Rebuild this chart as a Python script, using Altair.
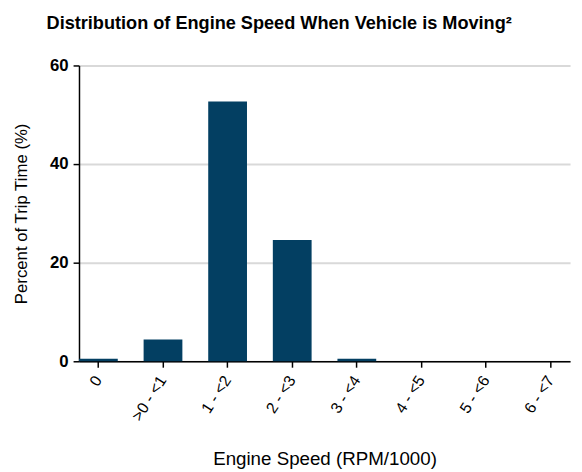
import altair as alt
import pandas as pd

categories = ["0", ">0 - <1", "1 - <2", "2 - <3", "3 - <4", "4 - <5", "5 - <6", "6 - <7"]
percent = [0.5, 4.4, 52.7, 24.6, 0.5, 0.0, 0.0, 0.0]

df = pd.DataFrame({"speed": categories, "pct": percent})

chart = alt.Chart(df).mark_bar(color="#033f62").encode(
    x=alt.X("speed:N", sort=categories,
            scale=alt.Scale(paddingInner=0.4, paddingOuter=0),
            axis=alt.Axis(title="Engine Speed (RPM/1000)", labelAngle=-57,
                          labelAlign="right", labelBaseline="middle",
                          labelFontSize=16, labelColor="black", labelPadding=10,
                          titleFontSize=19, titleFontWeight="normal", titleColor="black",
                          titlePadding=27, domainColor="black", domainWidth=1.5,
                          tickColor="black", tickWidth=1.5, tickSize=6, grid=False)),
    y=alt.Y("pct:Q", scale=alt.Scale(domain=[0, 60]),
            axis=alt.Axis(title="Percent of Trip Time (%)", values=[0, 20, 40, 60],
                          labelFontSize=17, labelFontWeight="bold", labelColor="black",
                          labelPadding=5,
                          titleFontSize=17, titleFontWeight="normal", titleColor="black",
                          titlePadding=19, domainColor="black", domainWidth=1.5,
                          tickColor="black", tickWidth=1.5, tickSize=6,
                          grid=True, gridColor="#d9d9d9", gridWidth=2)),
).properties(
    width=498, height=300,
    autosize=alt.AutoSizeParams(type="none"),
    padding={"left": 72, "top": 55, "right": 4, "bottom": 109},
    title=alt.TitleParams("Distribution of Engine Speed When Vehicle is Moving²",
                          fontSize=18.4, fontWeight="bold", color="black",
                          anchor="middle", dx=-46, offset=25),
).configure(font="Liberation Sans").configure_view(stroke=None)

chart.save("out.html", embed_options={"renderer": "svg", "actions": False})
